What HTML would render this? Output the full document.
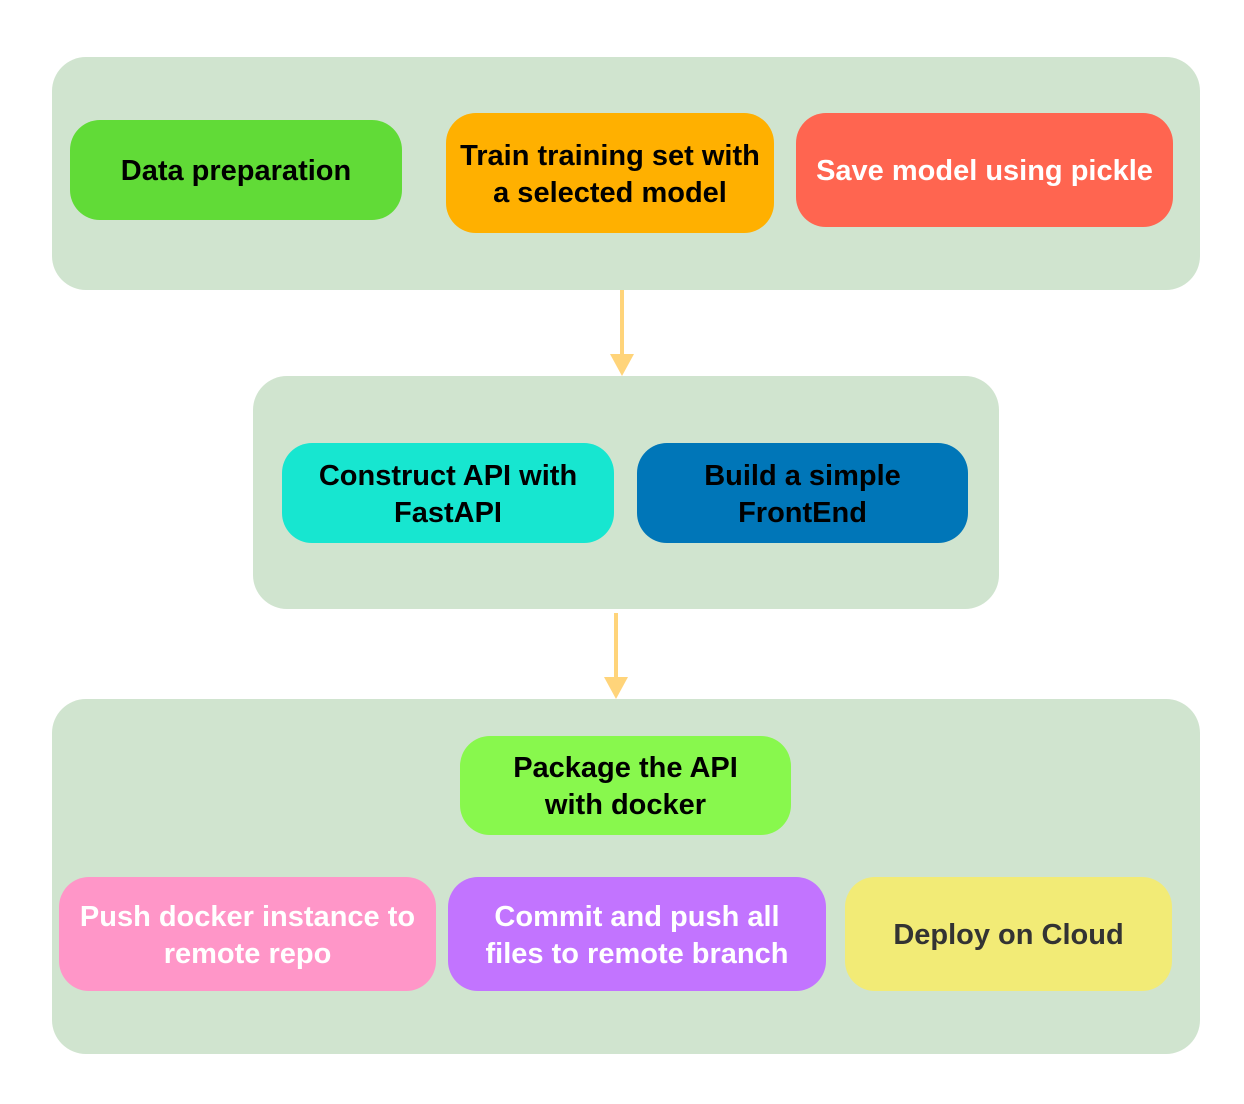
<!DOCTYPE html>
<html><head><style>
body{margin:0;width:1244px;height:1104px;background:#fff;position:relative;font-family:"Liberation Sans",sans-serif;font-weight:bold;}
.g{position:absolute;background:#d0e4cf;border-radius:34px;}
.b{position:absolute;display:flex;align-items:center;justify-content:center;text-align:center;font-size:29px;line-height:37px;border-radius:30px;color:#000;box-sizing:border-box;padding-top:3px;}
</style></head><body>
<div class="g" style="left:52px;top:57px;width:1148px;height:233px"></div>
<div class="g" style="left:253px;top:376px;width:746px;height:233px"></div>
<div class="g" style="left:52px;top:699px;width:1148px;height:355px"></div>
<div class="b" style="left:70px;top:120px;width:332px;height:100px;background:#61db37">Data preparation</div>
<div class="b" style="left:446px;top:113px;width:328px;height:120px;background:#ffb000">Train training set with<br>a selected model</div>
<div class="b" style="left:796px;top:113px;width:377px;height:114px;background:#ff6550;color:#fff">Save model using pickle</div>
<div class="b" style="left:282px;top:443px;width:332px;height:100px;background:#17e6d0">Construct API with<br>FastAPI</div>
<div class="b" style="left:637px;top:443px;width:331px;height:100px;background:#0076b8">Build a simple<br>FrontEnd</div>
<div class="b" style="left:460px;top:736px;width:331px;height:99px;background:#88f84d">Package the API<br>with docker</div>
<div class="b" style="left:59px;top:877px;width:377px;height:114px;background:#ff96c8;color:#fff">Push docker instance to<br>remote repo</div>
<div class="b" style="left:448px;top:877px;width:378px;height:114px;background:#c274ff;color:#fff">Commit and push all<br>files to remote branch</div>
<div class="b" style="left:845px;top:877px;width:327px;height:114px;background:#f2eb76;color:#333">Deploy on Cloud</div>
<svg width="1244" height="1104" style="position:absolute;left:0;top:0">
<line x1="622" y1="290" x2="622" y2="360" stroke="#ffd47a" stroke-width="4"/>
<polygon points="610,354 634,354 622,376" fill="#ffd47a"/>
<line x1="616" y1="613" x2="616" y2="683" stroke="#ffd47a" stroke-width="4"/>
<polygon points="604,677 628,677 616,699" fill="#ffd47a"/>
</svg>
</body></html>
